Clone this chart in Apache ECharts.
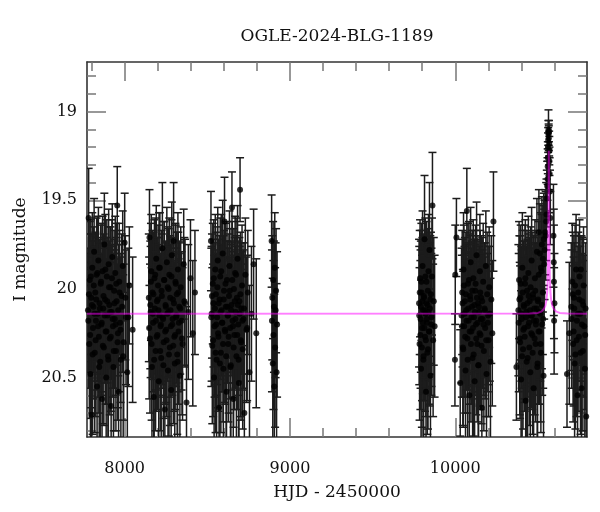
<!DOCTYPE html>
<html>
<head>
<meta charset="utf-8">
<script src="https://cdn.jsdelivr.net/npm/echarts@6/dist/echarts.min.js"></script>
<style>html,body{margin:0;padding:0;background:#fff}#c{width:600px;height:512px}</style>
</head>
<body>
<div id="c"></div>
<script>
// ---- data ----
const titleText = "OGLE-2024-BLG-1189";
const xName = "HJD - 2450000";
const yName = "I magnitude";
const xMajor = [8000, 9000, 10000];
const xMinor = [7800, 8200, 8400, 8600, 8800, 9200, 9400, 9600, 9800, 10200, 10400, 10600];
const yMajor = [19, 19.5, 20, 20.5];
const yMinor = [18.8, 18.9, 19.1, 19.2, 19.3, 19.4, 19.6, 19.7, 19.8, 19.9, 20.1, 20.2, 20.3, 20.4, 20.6, 20.7, 20.8];

const hjd1 = [7778,7782,7786,7789,7793,7797,7800,7804,7808,7811,7815,7819,7822,7826,7830,7833,7837,7841,7844,7848,7852,7855,7859,7863,7866,7870,7874,7877,7881,7885,7888,7892,7896,7899,7903,7907,7910,7914,7918,7921,7925,7929,7932,7936,7940,7943,7947,7951,7955,7959,7963,7967,7972,7977,7982,7988,7994,8000,8008,8016,8028,8048];
const mag1 = [20.12,19.60,20.31,19.95,20.48,20.05,20.71,19.88,20.22,20.10,19.79,20.36,20.02,20.18,19.92,20.55,20.14,19.84,20.27,20.08,20.41,19.97,20.20,20.62,19.90,20.11,20.33,19.75,20.06,20.24,20.50,19.93,20.15,20.38,19.86,20.09,20.28,19.99,20.66,20.13,19.82,20.21,20.44,20.01,20.17,19.91,20.35,20.07,19.53,20.25,20.58,19.96,20.19,20.40,20.04,19.87,20.30,19.74,20.16,20.47,19.98,20.23];
const err1 = [0.35,0.28,0.42,0.33,0.50,0.36,0.55,0.31,0.40,0.37,0.30,0.45,0.34,0.39,0.32,0.52,0.38,0.30,0.43,0.36,0.48,0.33,0.40,0.55,0.31,0.37,0.44,0.29,0.35,0.41,0.50,0.32,0.38,0.46,0.31,0.36,0.43,0.34,0.55,0.38,0.30,0.40,0.49,0.34,0.39,0.32,0.45,0.36,0.22,0.42,0.53,0.33,0.39,0.47,0.35,0.31,0.44,0.28,0.38,0.50,0.33,0.41];
const hjd1x = [7780,7784,7791,7795,7802,7806,7813,7817,7824,7828,7835,7839,7846,7850,7857,7861,7868,7872,7879,7883,7890,7894,7901,7905,7912,7916,7923,7927,7934,7938,7945,7949,7957,7961,7969,7975,7985,7991,8004,8022];
const mag1x = [20.18,20.03,20.26,19.93,20.09,20.37,19.98,20.14,20.29,20.06,19.91,20.21,20.44,20.11,19.96,20.19,20.32,20.04,20.15,19.89,20.24,20.07,20.40,19.99,20.13,20.27,19.94,20.17,20.35,20.08,20.20,19.97,20.30,20.12,20.02,20.23,20.10,20.38,20.05,20.16];
const err1x = [0.38,0.34,0.41,0.32,0.36,0.45,0.33,0.38,0.43,0.35,0.32,0.40,0.48,0.37,0.33,0.39,0.44,0.35,0.38,0.31,0.41,0.36,0.47,0.34,0.37,0.42,0.33,0.39,0.45,0.36,0.40,0.34,0.44,0.37,0.35,0.41,0.37,0.46,0.35,0.39];

const hjd2 = [8146,8150,8153,8157,8161,8165,8168,8172,8176,8180,8183,8187,8191,8195,8198,8202,8206,8210,8213,8217,8221,8225,8228,8232,8236,8240,8243,8247,8251,8255,8258,8262,8266,8270,8273,8277,8281,8285,8288,8292,8296,8300,8303,8307,8311,8315,8318,8322,8326,8330,8334,8339,8344,8350,8357,8365,8374,8385,8398,8412,8425];
const mag2 = [20.05,19.71,20.28,20.13,19.90,20.44,20.02,20.19,20.61,19.94,20.11,20.35,19.83,20.07,20.26,19.98,20.52,20.15,19.88,20.21,20.39,20.04,19.77,20.17,20.30,19.95,20.68,20.09,20.23,19.85,20.14,20.46,20.00,19.92,20.33,20.12,20.57,19.81,20.20,20.06,19.73,20.27,20.42,19.96,20.16,20.03,20.37,19.89,20.24,20.10,20.49,19.99,20.18,20.31,19.86,20.08,20.64,20.13,19.94,20.25,20.02];
const err2 = [0.36,0.27,0.42,0.37,0.32,0.48,0.35,0.39,0.54,0.33,0.37,0.45,0.30,0.36,0.42,0.34,0.50,0.38,0.31,0.40,0.46,0.35,0.37,0.39,0.43,0.33,0.55,0.36,0.41,0.31,0.38,0.48,0.34,0.32,0.44,0.37,0.52,0.30,0.40,0.35,0.33,0.42,0.47,0.33,0.39,0.35,0.45,0.32,0.41,0.37,0.49,0.34,0.39,0.43,0.31,0.36,0.54,0.38,0.33,0.41,0.35];
const hjd2x = [8148,8155,8159,8163,8170,8174,8178,8185,8189,8193,8200,8204,8208,8215,8219,8223,8230,8234,8238,8245,8249,8253,8260,8264,8268,8275,8279,8283,8290,8294,8298,8305,8309,8313,8320,8324,8328,8336,8347,8361];
const mag2x = [20.22,20.09,19.96,20.31,20.14,20.03,20.40,19.92,20.18,20.27,20.06,20.12,19.88,20.35,20.20,20.01,20.16,20.43,19.95,20.24,20.10,20.29,19.99,20.13,20.37,20.05,20.21,19.93,20.17,20.32,20.08,20.26,19.97,20.15,20.41,20.02,20.19,20.11,20.28,20.07];
const err2x = [0.40,0.36,0.33,0.43,0.37,0.35,0.46,0.32,0.39,0.42,0.35,0.37,0.31,0.45,0.40,0.34,0.38,0.47,0.33,0.41,0.36,0.43,0.34,0.37,0.46,0.35,0.40,0.32,0.38,0.44,0.36,0.42,0.33,0.38,0.47,0.34,0.39,0.37,0.43,0.36];

const hjd3 = [8522,8526,8530,8533,8537,8541,8544,8548,8552,8556,8559,8563,8567,8571,8574,8578,8582,8586,8589,8593,8597,8601,8604,8608,8612,8616,8619,8623,8627,8631,8634,8638,8642,8646,8649,8653,8657,8661,8664,8668,8672,8676,8679,8683,8687,8691,8694,8698,8702,8706,8710,8714,8719,8724,8730,8737,8745,8755,8767,8780,8796];
const mag3 = [19.73,20.14,20.32,19.97,20.08,20.50,20.21,19.89,20.03,20.40,20.16,19.84,20.27,20.67,20.06,19.93,20.36,20.12,20.19,19.80,20.45,20.01,19.62,20.24,20.10,20.58,19.95,20.15,20.31,20.04,19.87,20.22,20.43,20.09,19.54,20.18,20.62,20.00,20.26,19.91,20.13,20.38,20.05,19.83,20.20,20.53,20.07,19.44,20.29,20.11,19.98,20.34,20.17,20.70,19.92,20.23,20.02,20.47,20.14,19.86,20.25];
const err3 = [0.28,0.38,0.44,0.34,0.36,0.50,0.40,0.31,0.35,0.46,0.38,0.30,0.42,0.55,0.36,0.33,0.45,0.37,0.39,0.30,0.48,0.34,0.25,0.41,0.37,0.52,0.33,0.38,0.44,0.35,0.31,0.40,0.47,0.36,0.20,0.39,0.54,0.34,0.42,0.32,0.37,0.46,0.35,0.30,0.40,0.51,0.36,0.18,0.43,0.37,0.34,0.45,0.39,0.55,0.32,0.41,0.35,0.49,0.38,0.31,0.42];
const hjd3x = [8524,8528,8535,8539,8546,8550,8554,8561,8565,8569,8576,8580,8584,8591,8595,8599,8606,8610,8614,8621,8625,8629,8636,8640,8644,8651,8655,8659,8666,8670,8674,8681,8685,8689,8696,8700,8704,8712,8722,8741];
const mag3x = [20.16,20.04,20.29,19.94,20.11,20.36,20.20,19.99,20.25,20.08,20.42,20.13,19.90,20.19,20.31,20.06,20.23,19.97,20.38,20.10,20.15,20.27,20.01,20.44,20.12,19.95,20.21,20.33,20.07,20.17,19.92,20.26,20.09,20.40,20.14,20.03,20.30,20.18,20.11,20.22];
const err3x = [0.39,0.35,0.43,0.33,0.37,0.45,0.40,0.34,0.42,0.36,0.47,0.38,0.32,0.39,0.44,0.36,0.41,0.34,0.46,0.37,0.38,0.43,0.35,0.48,0.37,0.33,0.40,0.45,0.36,0.39,0.32,0.42,0.36,0.47,0.38,0.35,0.44,0.39,0.37,0.41];

const hjd3b = [8889,8891,8893,8896,8898,8900,8903,8905,8908,8910,8913,8916,8919,8922];
const mag3b = [19.73,20.18,20.05,20.42,19.95,20.26,20.10,20.55,19.88,20.33,20.12,20.01,20.47,20.20];
const err3b = [0.26,0.40,0.35,0.48,0.33,0.42,0.37,0.52,0.31,0.45,0.38,0.35,0.50,0.41];

const hjd4 = [9781,9784,9787,9790,9793,9796,9799,9802,9805,9808,9811,9814,9817,9820,9823,9826,9829,9832,9835,9838,9841,9844,9847,9850,9853,9856,9859,9862,9866,9870,9875];
const mag4 = [20.08,20.31,19.94,20.17,20.45,20.02,20.22,19.87,20.12,20.38,20.05,19.72,20.27,20.14,20.58,19.96,20.19,20.09,20.34,19.90,20.24,19.78,20.11,20.49,20.03,20.16,19.93,19.53,20.29,20.07,20.21];
const err4 = [0.36,0.43,0.33,0.39,0.50,0.35,0.41,0.31,0.37,0.46,0.35,0.36,0.42,0.38,0.53,0.34,0.40,0.36,0.45,0.32,0.41,0.38,0.37,0.49,0.35,0.39,0.33,0.30,0.43,0.36,0.40];
const hjd4x = [9782,9785,9789,9792,9795,9798,9801,9804,9807,9810,9813,9816,9819,9822,9825,9828,9831,9834,9837,9843,9849,9855];
const mag4x = [20.15,20.02,20.26,20.10,19.96,20.33,20.07,20.19,20.40,20.04,20.22,20.12,19.93,20.29,20.08,20.17,20.36,20.01,20.13,20.24,20.06,20.20];
const err4x = [0.39,0.35,0.42,0.37,0.33,0.45,0.36,0.40,0.47,0.35,0.41,0.38,0.33,0.43,0.36,0.39,0.46,0.35,0.38,0.42,0.36,0.40];

const hjd5 = [9998,10000,10007,10030,10038,10042,10046,10050,10054,10058,10062,10066,10070,10073,10077,10081,10085,10089,10093,10097,10101,10105,10109,10113,10117,10121,10125,10129,10133,10137,10141,10145,10149,10153,10157,10161,10165,10169,10173,10177,10181,10185,10189,10193,10197,10201,10205,10209,10213,10218,10224,10231];
const mag5 = [20.40,19.92,19.71,20.53,20.15,20.02,20.33,19.89,20.21,20.07,20.46,20.12,19.56,20.28,19.97,20.18,20.60,20.04,19.85,20.24,20.10,20.39,19.94,20.16,20.52,20.01,20.20,19.81,20.31,20.08,20.43,20.13,19.90,20.26,20.05,20.67,20.17,19.96,20.35,20.11,20.22,19.87,20.48,20.03,20.19,20.29,19.99,20.14,20.41,20.06,20.25,19.62];
const err5 = [0.26,0.28,0.22,0.30,0.38,0.35,0.44,0.32,0.40,0.36,0.48,0.37,0.24,0.42,0.34,0.39,0.54,0.35,0.31,0.41,0.37,0.46,0.33,0.38,0.51,0.34,0.40,0.30,0.44,0.36,0.48,0.37,0.32,0.42,0.35,0.55,0.39,0.33,0.45,0.37,0.40,0.31,0.49,0.35,0.39,0.43,0.34,0.38,0.47,0.36,0.41,0.28];
const hjd5x = [10040,10044,10048,10052,10056,10060,10064,10068,10075,10079,10083,10087,10091,10095,10099,10103,10107,10111,10115,10119,10123,10127,10131,10135,10139,10143,10147,10151,10155,10159,10163,10171,10179,10187,10199];
const mag5x = [20.21,20.08,20.34,19.98,20.14,20.27,20.03,20.18,20.40,20.11,19.95,20.24,20.06,20.31,20.16,20.01,20.22,20.37,20.09,20.13,19.97,20.28,20.05,20.19,20.43,20.10,20.25,20.02,20.17,20.32,20.07,20.20,20.12,20.29,20.15];
const err5x = [0.40,0.36,0.44,0.34,0.38,0.43,0.35,0.39,0.47,0.37,0.33,0.41,0.36,0.44,0.39,0.34,0.40,0.46,0.37,0.38,0.33,0.43,0.35,0.39,0.48,0.37,0.41,0.35,0.39,0.44,0.36,0.40,0.38,0.43,0.39];

const hjd6 = [10370,10382,10386,10390,10394,10398,10402,10406,10410,10414,10418,10422,10426,10430,10434,10438,10442,10446,10450,10454,10458,10462,10466,10470,10474,10478,10482,10486,10490,10494,10498,10502,10506,10510,10514,10518,10522,10526,10530,10534,10538];
const mag6 = [20.44,20.12,19.95,20.28,20.05,20.51,20.17,19.88,20.34,20.09,20.22,19.97,20.63,20.13,20.01,20.39,19.91,20.19,20.07,20.47,20.15,19.84,20.26,20.03,20.56,20.11,19.94,20.31,20.18,19.79,20.42,20.06,19.68,20.24,20.14,20.36,19.90,20.20,20.02,20.49,19.86];
const err6 = [0.30,0.37,0.33,0.43,0.35,0.50,0.39,0.31,0.45,0.36,0.40,0.33,0.55,0.37,0.34,0.46,0.32,0.39,0.36,0.49,0.38,0.30,0.42,0.35,0.53,0.37,0.33,0.44,0.39,0.30,0.47,0.36,0.24,0.41,0.38,0.45,0.32,0.40,0.35,0.49,0.31];
const hjd6x = [10384,10388,10392,10396,10400,10404,10408,10412,10416,10420,10424,10428,10432,10436,10440,10444,10448,10452,10456,10460,10464,10468,10472,10476,10480,10484,10488,10492,10496,10500,10504,10508,10516,10524,10532];
const mag6x = [20.19,20.06,20.30,19.97,20.14,20.38,20.02,20.23,20.10,20.27,19.94,20.16,20.41,20.08,20.21,20.04,20.33,20.12,19.99,20.25,20.15,20.36,20.05,20.18,20.28,20.01,20.20,20.11,20.44,20.07,20.24,20.13,20.31,20.09,20.17];
const err6x = [0.39,0.36,0.43,0.33,0.38,0.46,0.35,0.41,0.37,0.42,0.33,0.39,0.48,0.36,0.40,0.35,0.44,0.37,0.34,0.42,0.38,0.46,0.35,0.39,0.43,0.34,0.40,0.37,0.49,0.36,0.41,0.38,0.44,0.36,0.39];

const hjdEv = [10505,10512,10518,10524,10530,10535,10540,10544,10547,10550,10552,10554,10556,10558,10559,10560,10561,10562,10563,10564,10565,10566,10567,10568,10569,10570,10571,10573,10575,10594,10596,10597,10598,10600];
const magEv = [19.92,19.80,19.88,19.75,19.83,19.72,19.78,19.68,19.70,19.62,19.58,19.49,19.42,19.38,19.31,19.26,19.20,19.16,19.12,19.10,19.13,19.15,19.11,19.18,19.22,19.28,19.35,19.45,19.60,19.70,19.85,19.96,20.18,20.08];
const errEv = [0.30,0.28,0.31,0.27,0.30,0.26,0.28,0.24,0.25,0.22,0.20,0.16,0.14,0.12,0.10,0.09,0.08,0.07,0.07,0.11,0.06,0.07,0.06,0.07,0.08,0.08,0.09,0.12,0.15,0.29,0.30,0.32,0.30,0.28];

const hjd7 = [10676,10690,10702,10708,10713,10718,10722,10727,10731,10736,10740,10744,10748,10752,10756,10760,10764,10768,10772,10776,10780,10784,10788,10792];
const mag7 = [20.48,20.25,20.10,19.96,20.31,20.05,20.42,20.37,19.89,20.18,20.60,20.02,20.27,19.93,20.14,19.89,20.56,20.07,20.35,19.98,20.21,20.45,20.11,20.72];
const err7 = [0.30,0.40,0.36,0.33,0.44,0.35,0.48,0.42,0.31,0.39,0.53,0.34,0.42,0.32,0.38,0.19,0.50,0.36,0.45,0.33,0.40,0.47,0.37,0.55];
const hjd7x = [10704,10711,10716,10720,10725,10734,10742,10750,10758,10766,10774,10786];
const mag7x = [20.17,20.03,20.24,20.11,19.98,20.29,20.14,20.06,20.36,20.20,20.09,20.26];
const err7x = [0.39,0.35,0.42,0.37,0.34,0.43,0.38,0.36,0.46,0.40,0.37,0.42];

const modelT = [7772,10450,10500,10520,10535,10545,10552,10556,10559,10561,10563,10564,10565,10566,10567,10568,10569,10571,10573,10576,10580,10587,10597,10612,10632,10680,10797];
const modelM = [20.14,20.139,20.135,20.128,20.115,20.095,20.06,20.02,19.96,19.88,19.72,19.58,19.40,19.22,19.40,19.58,19.72,19.88,19.96,20.02,20.06,20.095,20.115,20.128,20.135,20.139,20.14];

const xMin = 7772, xMax = 10797, yMin = 18.72, yMax = 20.835;

// ---- build ----
const seasons = [
  [hjd1,mag1,err1],[hjd1x,mag1x,err1x],[hjd2,mag2,err2],[hjd2x,mag2x,err2x],
  [hjd3,mag3,err3],[hjd3x,mag3x,err3x],[hjd3b,mag3b,err3b],[hjd4,mag4,err4],[hjd4x,mag4x,err4x],
  [hjd5,mag5,err5],[hjd5x,mag5x,err5x],[hjd6,mag6,err6],[hjd6x,mag6x,err6x],
  [hjdEv,magEv,errEv],[hjd7,mag7,err7],[hjd7x,mag7x,err7x]
];
const pts = [], bars = [];
seasons.forEach(([t,m,e]) => {
  const n = Math.min(t.length, m.length, e.length);
  for (let i = 0; i < n; i++) {
    pts.push([t[i], m[i]]);
    bars.push([t[i], m[i] - e[i], m[i] + e[i]]);
  }
});
const model = modelT.map((t,i) => [t, modelM[i]]);

const FONT = '"DejaVu Serif", "Liberation Serif", serif';
const chart = echarts.init(document.getElementById('c'), null, {renderer: 'canvas'});
const fmt = v => String(Math.round(v * 100) / 100);

function xAx(pos, major, show) {
  return {
    type: 'value', min: xMin, max: xMax, position: pos, offset: 0,
    axisLine: {show: major, onZero: false, lineStyle: {color: '#333', width: 1.6}},
    axisTick: {show: true, inside: true, length: major ? 19 : 9, customValues: major ? xMajor : xMinor, lineStyle: {color: '#777', width: 1.5}},
    axisLabel: {show: show, customValues: xMajor, formatter: fmt, margin: 24, color: '#111', fontFamily: FONT, fontSize: 16, hideOverlap: false},
    splitLine: {show: false},
    name: show ? xName : '', nameLocation: 'middle', nameGap: 47,
    nameTextStyle: {color: '#111', fontFamily: FONT, fontSize: 17}
  };
}
function yAx(pos, major, show) {
  return {
    type: 'value', min: yMin, max: yMax, inverse: true, position: pos, offset: 0,
    axisLine: {show: major, onZero: false, lineStyle: {color: '#333', width: 1.6}},
    axisTick: {show: true, inside: true, length: major ? 19 : 9, customValues: major ? yMajor : yMinor, lineStyle: {color: '#777', width: 1.5}},
    axisLabel: {show: show, customValues: yMajor, formatter: fmt, margin: 10, color: '#111', fontFamily: FONT, fontSize: 16, hideOverlap: false},
    splitLine: {show: false},
    name: show ? yName : '', nameLocation: 'middle', nameGap: 58, nameRotate: 90,
    nameTextStyle: {color: '#111', fontFamily: FONT, fontSize: 17}
  };
}

chart.setOption({
  animation: false,
  backgroundColor: '#fff',
  grid: {left: 87, right: 13, top: 62, bottom: 75, containLabel: false},
  graphic: [{type: 'text', x: 337, y: 37, style: {text: titleText, textAlign: 'center', textVerticalAlign: 'middle', font: '17px ' + FONT, fill: '#111'}}],
  xAxis: [xAx('bottom', true, true), xAx('bottom', false, false), xAx('top', true, false), xAx('top', false, false)],
  yAxis: [yAx('left', true, true), yAx('left', false, false), yAx('right', true, false), yAx('right', false, false)],
  series: [
    {
      type: 'custom', xAxisIndex: 0, yAxisIndex: 0, clip: true, z: 2,
      data: bars, encode: {x: 0, y: [1, 2]},
      renderItem: function (params, api) {
        const x = api.value(0);
        const p1 = api.coord([x, api.value(1)]);
        const p2 = api.coord([x, api.value(2)]);
        const cw = 4;
        const st = {stroke: '#1c1c1c', lineWidth: 1.5};
        return {type: 'group', children: [
          {type: 'line', shape: {x1: p1[0], y1: p1[1], x2: p2[0], y2: p2[1]}, style: st},
          {type: 'line', shape: {x1: p1[0] - cw, y1: p1[1], x2: p1[0] + cw, y2: p1[1]}, style: st},
          {type: 'line', shape: {x1: p2[0] - cw, y1: p2[1], x2: p2[0] + cw, y2: p2[1]}, style: st}
        ]};
      }
    },
    {
      type: 'scatter', xAxisIndex: 0, yAxisIndex: 0, data: pts, symbol: 'circle', symbolSize: 6, z: 3,
      itemStyle: {color: '#000'}, clip: true
    },
    {
      type: 'line', xAxisIndex: 0, yAxisIndex: 0, data: model, showSymbol: false, symbol: 'none', z: 4,
      lineStyle: {color: 'rgba(255,0,255,0.5)', width: 2}, clip: true
    }
  ]
});
</script>
</body>
</html>
